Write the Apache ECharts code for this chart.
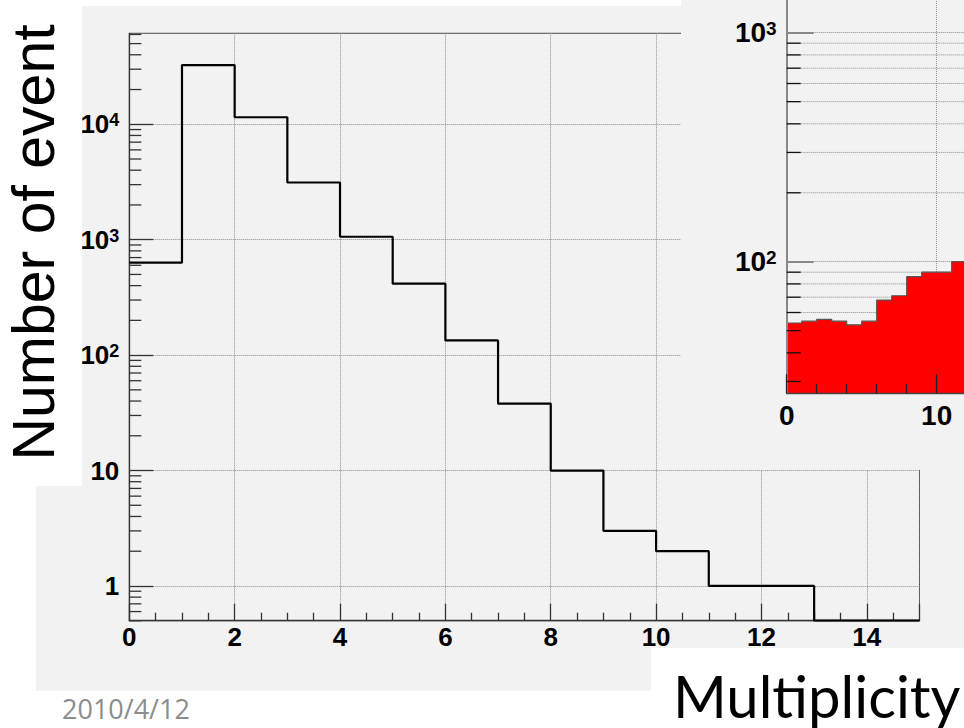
<!DOCTYPE html>
<html><head><meta charset="utf-8">
<script src="https://cdn.jsdelivr.net/npm/echarts@6/dist/echarts.min.js"></script>
<style>
html,body{margin:0;padding:0;background:#fff;overflow:hidden;}
#bg{position:absolute;left:36px;top:6px;width:928px;height:685px;background:#f2f2f2;}
#chart{position:absolute;left:0;top:0;width:964px;height:728px;}
</style></head><body>
<div id="bg"></div><div id="chart"></div>
<script>
// ---- data ----
const mainBinLow = [0, 1, 2, 3, 4, 5, 6, 7, 8, 9, 10, 11, 12, 13, 14];
const mainCounts = [632, 32600, 11500, 3130, 1060, 416, 134, 38, 10, 3, 2, 1, 1, 0, 0];
const insetBinLow = [0, 1, 2, 3, 4, 5, 6, 7, 8, 9, 10, 11];
const insetCounts = [54, 55, 56, 55, 53, 55, 68, 71, 86, 90, 90, 100];
const binWidth = 1;
const mainXRange = [0, 15];
const mainYRange = [0.5, 61400];
const insetXRange = [0, 20];
const insetYRange = [26.63, 1585];
const xTitle = 'Multiplicity';
const yTitle = 'Number of event';
const dateText = '2010/4/12';

// ---- helpers ----
function stepData(lows, counts, w, floor) {
  const d = lows.map((x, i) => [x, Math.max(counts[i], floor)]);
  d.push([lows[lows.length - 1] + w, Math.max(counts[counts.length - 1], floor)]);
  return d;
}
function logMinor(lo, hi) {
  const out = [];
  for (let e = Math.floor(Math.log10(lo)); e <= Math.ceil(Math.log10(hi)); e++) {
    for (let m = 2; m <= 9; m++) {
      const v = m * Math.pow(10, e);
      if (v >= lo * 0.999 && v <= hi) out.push(v);
    }
  }
  return out;
}
function logLabel(v) {
  const l = Math.log10(v), e = Math.round(l);
  if (Math.abs(l - e) > 0.01) return '';
  if (e >= 2) return '{b|10}{s|' + e + '}';
  return '{b|' + Math.round(Math.pow(10, e)) + '}';
}
const FONT = 'Liberation Sans';
const richLab = (fs, ss) => ({
  b: { fontFamily: FONT, fontWeight: 'bold', fontSize: fs, lineHeight: fs, color: '#000' },
  s: { fontFamily: FONT, fontWeight: 'bold', fontSize: ss, lineHeight: ss - 4, verticalAlign: 'top', color: '#000' }
});
function tickSeries(xi, yi, vals, len, color, width, z) {
  return {
    type: 'custom', xAxisIndex: xi, yAxisIndex: yi, z: z, silent: true, clip: false, animation: false,
    data: vals.map(v => [0, v]),
    renderItem: (p, api) => {
      const c = api.coord([api.value(0), api.value(1)]);
      return { type: 'line', shape: { x1: c[0], y1: c[1], x2: c[0] + len, y2: c[1] },
               style: { stroke: color, lineWidth: width } };
    }
  };
}
function gridLineSeries(xi, yi, vals, xmax, z) {
  return {
    type: 'custom', xAxisIndex: xi, yAxisIndex: yi, z: z, silent: true, clip: false, animation: false,
    data: vals.map(v => [0, v]),
    renderItem: (p, api) => {
      const a = api.coord([0, api.value(1)]);
      const b = api.coord([xmax, api.value(1)]);
      return { type: 'line', shape: { x1: a[0], y1: a[1], x2: b[0], y2: b[1] },
               style: { stroke: '#8a8a8a', lineWidth: 1, lineDash: [1, 1] } };
    }
  };
}
const dotted = { color: '#8a8a8a', width: 1, type: [1, 1] };

const chart = echarts.init(document.getElementById('chart'), null, { renderer: 'svg' });
chart.setOption({
  animation: false,
  backgroundColor: 'transparent',
  grid: [
    { left: 129.3, top: 33.3, width: 790.2, height: 587.4, show: true, borderColor: '#333', borderWidth: 1,
      backgroundColor: 'transparent', containLabel: false, outerBoundsMode: 'none' },
    { left: 786.7, top: -13.1, width: 300, height: 406.4, show: false, containLabel: false, outerBoundsMode: 'none' }
  ],
  xAxis: [
    { gridIndex: 0, position: 'bottom', type: 'value', min: mainXRange[0], max: mainXRange[1], interval: 2,
      axisLine: { lineStyle: { color: '#333', width: 1.3 } },
      axisTick: { inside: true, length: 17, lineStyle: { color: '#333', width: 1.3 } },
      minorTick: { show: true, splitNumber: 4, length: 8, lineStyle: { color: '#333', width: 1.3 } },
      axisLabel: { color: '#000', fontFamily: FONT, fontWeight: 'bold', fontSize: 26, margin: 3, showMaxLabel: false },
      splitLine: { show: true, lineStyle: dotted } },
    { gridIndex: 1, position: 'bottom', type: 'value', min: insetXRange[0], max: insetXRange[1], interval: 10, z: 6,
      axisLine: { show: false }, axisTick: { show: false }, axisLabel: { show: false },
      splitLine: { show: true, lineStyle: dotted } },
    { gridIndex: 1, position: 'bottom', type: 'value', min: insetXRange[0], max: insetXRange[1], interval: 10, z: 8,
      axisLine: { onZero: false, lineStyle: { color: '#444', width: 1.3 } },
      axisTick: { inside: true, length: 19, lineStyle: { color: '#222', width: 1.3 } },
      minorTick: { show: true, splitNumber: 5, length: 9, lineStyle: { color: '#222', width: 1.3 } },
      axisLabel: { color: '#000', fontFamily: FONT, fontWeight: 'bold', fontSize: 28, margin: 8, showMaxLabel: false },
      splitLine: { show: false } }
  ],
  yAxis: [
    { gridIndex: 0, position: 'left', type: 'log', logBase: 10, min: mainYRange[0], max: mainYRange[1],
      axisLine: { lineStyle: { color: '#333', width: 1.3 } },
      axisTick: { inside: true, length: 24, lineStyle: { color: '#333', width: 1.3 } },
      axisLabel: { formatter: logLabel, rich: richLab(26, 18), margin: 10, showMinLabel: false, showMaxLabel: false },
      splitLine: { show: true, lineStyle: dotted } },
    { gridIndex: 1, position: 'left', type: 'log', logBase: 10, min: insetYRange[0], max: insetYRange[1], z: 6,
      axisLine: { show: false }, axisTick: { show: false }, axisLabel: { show: false },
      splitLine: { show: true, lineStyle: dotted } },
    { gridIndex: 1, position: 'left', type: 'log', logBase: 10, min: insetYRange[0], max: insetYRange[1], z: 8,
      axisLine: { onZero: false, lineStyle: { color: '#888', width: 2 } },
      axisTick: { inside: true, length: 27, lineStyle: { color: '#888', width: 2 } },
      axisLabel: { formatter: logLabel, rich: richLab(28, 19), margin: 10, showMinLabel: false, showMaxLabel: false },
      splitLine: { show: false } }
  ],
  series: [
    { type: 'line', xAxisIndex: 0, yAxisIndex: 0, z: 2, step: 'end', showSymbol: false, silent: true,
      data: stepData(mainBinLow, mainCounts, binWidth, mainYRange[0]),
      lineStyle: { color: '#000', width: 2.2 } },
    tickSeries(0, 0, logMinor(mainYRange[0], mainYRange[1]), 12, '#333', 1.3, 3),
    gridLineSeries(1, 1, logMinor(insetYRange[0], insetYRange[1]), insetXRange[1], 6),
    { type: 'line', xAxisIndex: 1, yAxisIndex: 1, z: 7, step: 'end', showSymbol: false, silent: true,
      data: stepData(insetBinLow, insetCounts, binWidth, insetYRange[0]),
      lineStyle: { color: '#555', width: 1.2 },
      areaStyle: { color: '#ff0000', opacity: 1, origin: 'start' } },
    tickSeries(2, 2, logMinor(insetYRange[0], insetYRange[1]), 14, '#111', 1.3, 9)
  ],
  graphic: { elements: [
    { type: 'rect', z: 5, silent: true, shape: { x: 681, y: 0, width: 283, height: 470 }, style: { fill: '#f2f2f2' } },
    { type: 'rect', z: 50, silent: true, shape: { x: 0, y: 0, width: 82, height: 486 }, style: { fill: '#ffffff' } },
    { type: 'rect', z: 50, silent: true, shape: { x: 651, y: 648, width: 313, height: 80 }, style: { fill: '#ffffff' } },
    { type: 'text', z: 51, silent: true, x: 34, y: 242.5, rotation: Math.PI / 2,
      style: { text: yTitle, fontFamily: FONT, fontSize: 59, fill: '#000', textAlign: 'center', textVerticalAlign: 'middle' } },
    { type: 'text', z: 51, silent: true, x: 673, y: 695,
      style: { text: xTitle, fontFamily: 'Lato', fontSize: 58, fill: '#000', textAlign: 'left', textVerticalAlign: 'middle' } },
    { type: 'text', z: 51, silent: true, x: 62, y: 708,
      style: { text: dateText, fontFamily: 'Open Sans', fontSize: 27, fill: '#8c8c8c', textAlign: 'left', textVerticalAlign: 'middle' } }
  ] }
});
</script></body></html>
